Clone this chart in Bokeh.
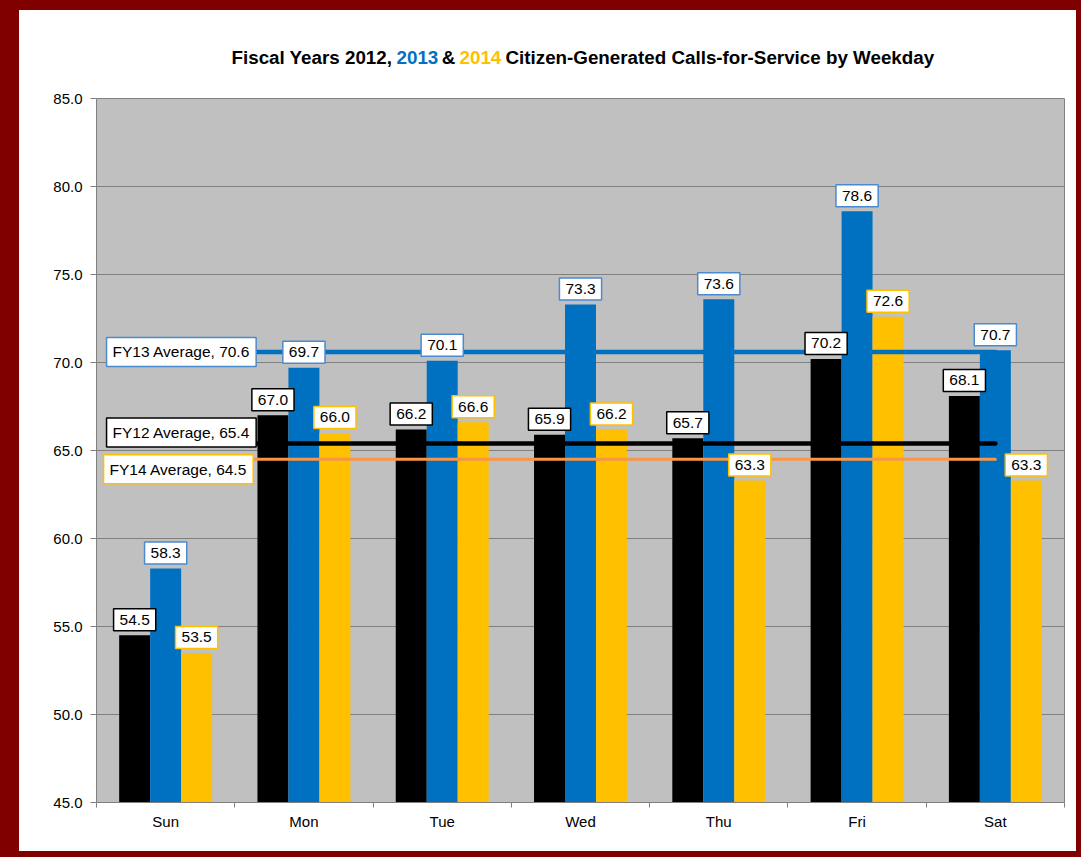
import numpy as np
from bokeh.plotting import figure
from bokeh.models import Range1d, FixedTicker, Label, PrintfTickFormatter, BoxAnnotation, LinearAxis
from bokeh.embed import file_html
from bokeh.resources import INLINE

days = ["Sun", "Mon", "Tue", "Wed", "Thu", "Fri", "Sat"]
fy12 = [54.5, 67.0, 66.2, 65.9, 65.7, 70.2, 68.1]
fy13 = [58.3, 69.7, 70.1, 73.3, 73.6, 78.6, 70.7]
fy14 = [53.5, 66.0, 66.6, 66.2, 63.3, 72.6, 63.3]
avg_names = ["FY12 Average", "FY13 Average", "FY14 Average"]
avg_vals = [65.4, 70.6, 64.5]
y_ticks = [45, 50, 55, 60, 65, 70, 75, 80, 85]

FONT = "Liberation Sans"
BLACK = "#000000"
BLUE = "#0070C0"
GOLD = "#FFC000"
ORANGE = "#F79646"
LBLUE = "#4A8BD0"
PLOT_BG = "#C0C0C0"

YMIN, YMAX = 45, 85
PX_PER_UNIT = 704 / 40.0
TOP_EXTRA = 58  # px of title space inside the frame above the 85 line
y_end = YMAX + TOP_EXTRA / PX_PER_UNIT

p = figure(frame_width=968, frame_height=704 + TOP_EXTRA, output_backend="svg", toolbar_location=None,
           x_range=Range1d(0, 7), y_range=Range1d(YMIN, y_end),
           min_border_left=77, min_border_right=12, min_border_top=30, min_border_bottom=49)
p.margin = (10, 5, 6, 19)
p.styles = {"background-color": "white"}
p.border_fill_color = "white"
p.background_fill_color = "white"
p.outline_line_color = None

# gray plot area (below grid lines)
p.add_layout(BoxAnnotation(bottom=YMIN, top=YMAX, left=0, right=7, fill_color=PLOT_BG,
                           fill_alpha=1.0, line_color=None, level="image"))

# axes
p.yaxis.bounds = (YMIN, YMAX)
p.yaxis.ticker = FixedTicker(ticks=y_ticks)
p.yaxis.formatter = PrintfTickFormatter(format="%.1f")
p.yaxis.major_label_text_font = FONT
p.yaxis.major_label_text_font_size = "15px"
p.yaxis.major_label_text_color = "black"
p.yaxis.axis_line_color = "#808080"
p.yaxis.major_tick_line_color = "#808080"
p.yaxis.major_tick_out = 6
p.yaxis.major_tick_in = 0
p.yaxis.minor_tick_line_color = None
p.yaxis.major_label_standoff = 8

right_axis = LinearAxis(bounds=(YMIN, YMAX), axis_line_color="#808080",
                        ticker=FixedTicker(ticks=[]),
                        major_tick_line_color=None, minor_tick_line_color=None)
p.add_layout(right_axis, "right")

centers = [i + 0.5 for i in range(len(days))]
p.xaxis.ticker = FixedTicker(ticks=centers, minor_ticks=list(range(len(days) + 1)))
p.xaxis.major_label_overrides = {c: d for c, d in zip(centers, days)}
p.xaxis.major_label_text_font = FONT
p.xaxis.major_label_text_font_size = "15px"
p.xaxis.major_label_text_color = "black"
p.xaxis.axis_line_color = "#808080"
p.xaxis.major_tick_out = 0
p.xaxis.major_tick_in = 0
p.xaxis.minor_tick_line_color = "#808080"
p.xaxis.minor_tick_out = 5
p.xaxis.minor_tick_in = 0
p.xaxis.major_label_standoff = 5

p.xgrid.grid_line_color = None
p.ygrid.grid_line_color = "#808080"
p.ygrid.grid_line_width = 1

# bars
bw = 0.224
series = [(fy12, BLACK, BLACK, -bw), (fy13, BLUE, LBLUE, 0.0), (fy14, GOLD, GOLD, bw)]
for vals, col, bcol, off in series:
    xs = np.array(centers) + off
    p.vbar(x=xs, top=vals, bottom=YMIN, width=bw, fill_color=col, line_color=None)

# average lines
avg_cols = [BLACK, BLUE, ORANGE]
avg_widths = [4.5, 4.5, 3]
for v, c, w in zip(avg_vals, avg_cols, avg_widths):
    p.line(x=[centers[0], centers[-1]], y=[v, v], line_color=c, line_width=w, line_cap="round")

pad = dict(left=6, right=6, top=6, bottom=6)

# data labels
for vals, col, bcol, off in series:
    for c, v in zip(centers, vals):
        p.add_layout(Label(x=c + off, y=v, text=f"{v:.1f}", text_align="center",
                           text_baseline="bottom", y_offset=4.5,
                           text_font=FONT, text_font_size="15.5px", text_color="black",
                           background_fill_color="white", border_line_color=bcol,
                           border_line_width=1.5, padding=pad))

# average labels
avg_label_borders = [BLACK, LBLUE, GOLD]
avg_offsets = [11, 0, -10]
avg_xoff = [-1, -1, -4]
for n, v, bc, yo, xo in zip(avg_names, avg_vals, avg_label_borders, avg_offsets, avg_xoff):
    p.add_layout(Label(x=0.08, y=v, text=f"{n}, {v:.1f}", text_align="left",
                       text_baseline="middle", y_offset=yo, x_offset=xo,
                       text_font=FONT, text_font_size="15.5px", text_color="black",
                       background_fill_color="white", border_line_color=bc,
                       border_line_width=1.5, padding=pad))

# title in pieces (screen x of each piece converted to data x)
title_parts = [("Fiscal Years 2012,", BLACK, 231, "left"),
               ("2013", BLUE, 396, "left"),
               ("&", BLACK, 448, "center"),
               ("2014", GOLD, 459, "left"),
               ("Citizen-Generated Calls-for-Service by Weekday", BLACK, 505, "left")]
for txt, col, sx, al in title_parts:
    p.add_layout(Label(x=(sx - 96) / (968 / 7.0), y=YMAX, y_offset=41, text=txt,
                       text_align=al, text_baseline="middle",
                       text_font=FONT, text_font_size="18.8px", text_font_style="bold",
                       text_color=col))

html = file_html(p, INLINE)
html = html.replace("</head>", "<style>html,body{margin:0;padding:0;background:#800000;}</style></head>", 1)
open("out.html", "w").write(html)
